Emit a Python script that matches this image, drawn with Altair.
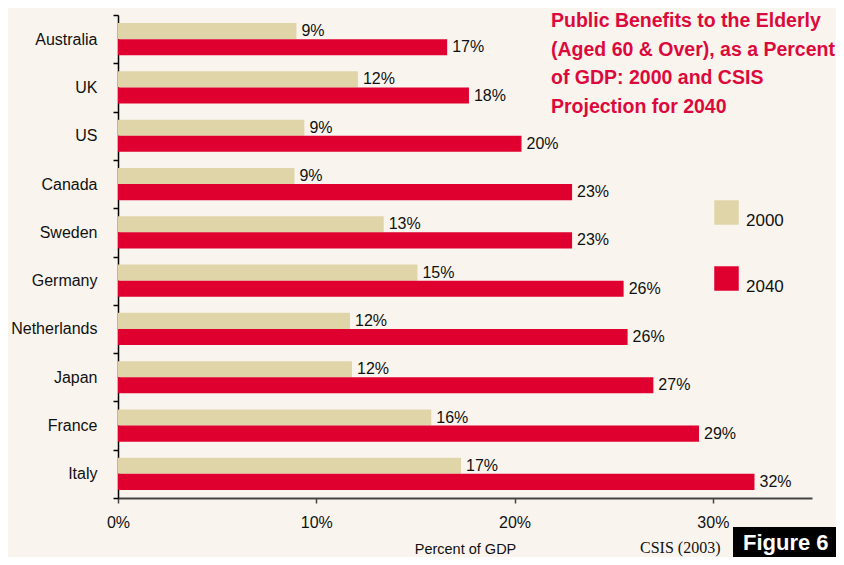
import altair as alt
import pandas as pd

countries = ["Australia", "UK", "US", "Canada", "Sweden", "Germany",
             "Netherlands", "Japan", "France", "Italy"]
years = ["2000", "2040"]
values_2000 = [9.0, 12.1, 9.4, 8.9, 13.4, 15.1, 11.7, 11.8, 15.8, 17.3]
values_2040 = [16.6, 17.7, 20.35, 22.9, 22.9, 25.5, 25.7, 27.0, 29.3, 32.1]
labels_2000 = ["9%", "12%", "9%", "9%", "13%", "15%", "12%", "12%", "16%", "17%"]
labels_2040 = ["17%", "18%", "20%", "23%", "23%", "26%", "26%", "27%", "29%", "32%"]
x_ticks = [0, 10, 20, 30]
title_lines = ["Public Benefits to the Elderly", "(Aged 60 & Over), as a Percent",
               "of GDP: 2000 and CSIS", "Projection for 2040"]
colors = ["#DFD5A9", "#E00030"]

rows = []
for i, c in enumerate(countries):
    rows.append({"country": c, "year": years[0], "value": values_2000[i], "label": labels_2000[i]})
    rows.append({"country": c, "year": years[1], "value": values_2040[i], "label": labels_2040[i]})
df = pd.DataFrame(rows)

W, H = 694, 483
FONT = "Liberation Sans"

y_enc = alt.Y("country:N", sort=countries,
              scale=alt.Scale(paddingInner=0, paddingOuter=0),
              axis=alt.Axis(title=None, tickBand="extent", labelFontSize=16,
                            labelFont=FONT, labelColor="#111", labelPadding=16,
                            tickSize=5, domainColor="#000", tickColor="#000",
                            domainWidth=1.5, tickWidth=1.5, grid=False))
yoff_enc = alt.YOffset("year:N", sort=years,
                       scale=alt.Scale(paddingInner=0, paddingOuter=0.5))
x_enc = alt.X("value:Q", scale=alt.Scale(domain=[0, 35], nice=False),
              axis=alt.Axis(title="Percent of GDP", values=x_ticks,
                            labelExpr="datum.value + '%'", labelFontSize=16,
                            labelFont=FONT, labelColor="#111", labelPadding=11,
                            labelFlush=False,
                            titleFont=FONT, titleFontSize=14.5, titleFontWeight="normal",
                            titleColor="#111", titlePadding=12,
                            domainColor="#444", domainWidth=2, tickColor="#444",
                            tickSize=5, tickWidth=1.5, grid=False))

base = alt.Chart(df)
bars = base.mark_bar(size=16.1).encode(
    y=y_enc, yOffset=yoff_enc, x=x_enc,
    color=alt.Color("year:N", sort=years,
                    scale=alt.Scale(domain=years, range=colors),
                    legend=alt.Legend(title=None, orient="none", legendX=596, legendY=185,
                                      symbolType="square", symbolSize=600,
                                      symbolStrokeWidth=0, labelFontSize=17,
                                      labelFont=FONT, labelColor="#111",
                                      labelBaseline="top",
                                      labelOffset=7, rowPadding=37, padding=0)),
)
texts = base.mark_text(align="left", baseline="middle", dx=5, fontSize=16,
                       font=FONT, color="#111").encode(
    y=alt.Y("country:N", sort=countries), yOffset=alt.YOffset("year:N", sort=years),
    x="value:Q", text="label:N")

anno = alt.Chart(pd.DataFrame({"a": [0]}))
title = anno.mark_text(text=title_lines, align="left", baseline="alphabetic",
                       fontSize=19.5, fontWeight="bold", font=FONT, color="#DC0A3C",
                       lineHeight=28.7).encode(x=alt.value(433), y=alt.value(12))
source = anno.mark_text(text="CSIS (2003)", align="left", baseline="alphabetic",
                        fontSize=16, font="Liberation Serif", color="#111").encode(
    x=alt.value(522), y=alt.value(538))
fig_box = anno.mark_rect(color="#000").encode(
    x=alt.value(615), x2=alt.value(730), y=alt.value(512), y2=alt.value(560))
fig_text = anno.mark_text(text="Figure 6", align="left", baseline="top",
                          fontSize=22, fontWeight="bold", font=FONT, color="#fff").encode(
    x=alt.value(625), y=alt.value(518))

chart = alt.layer(bars, texts, title, source, fig_box, fig_text).properties(
    width=W, height=H,
    autosize=alt.AutoSizeParams(type="none"),
    padding={"left": 110, "top": 7, "right": 24, "bottom": 59},
    background="#F9F5EE",
).configure_view(stroke=None)

chart.save("out.html", embed_options={"renderer": "svg", "actions": False})
